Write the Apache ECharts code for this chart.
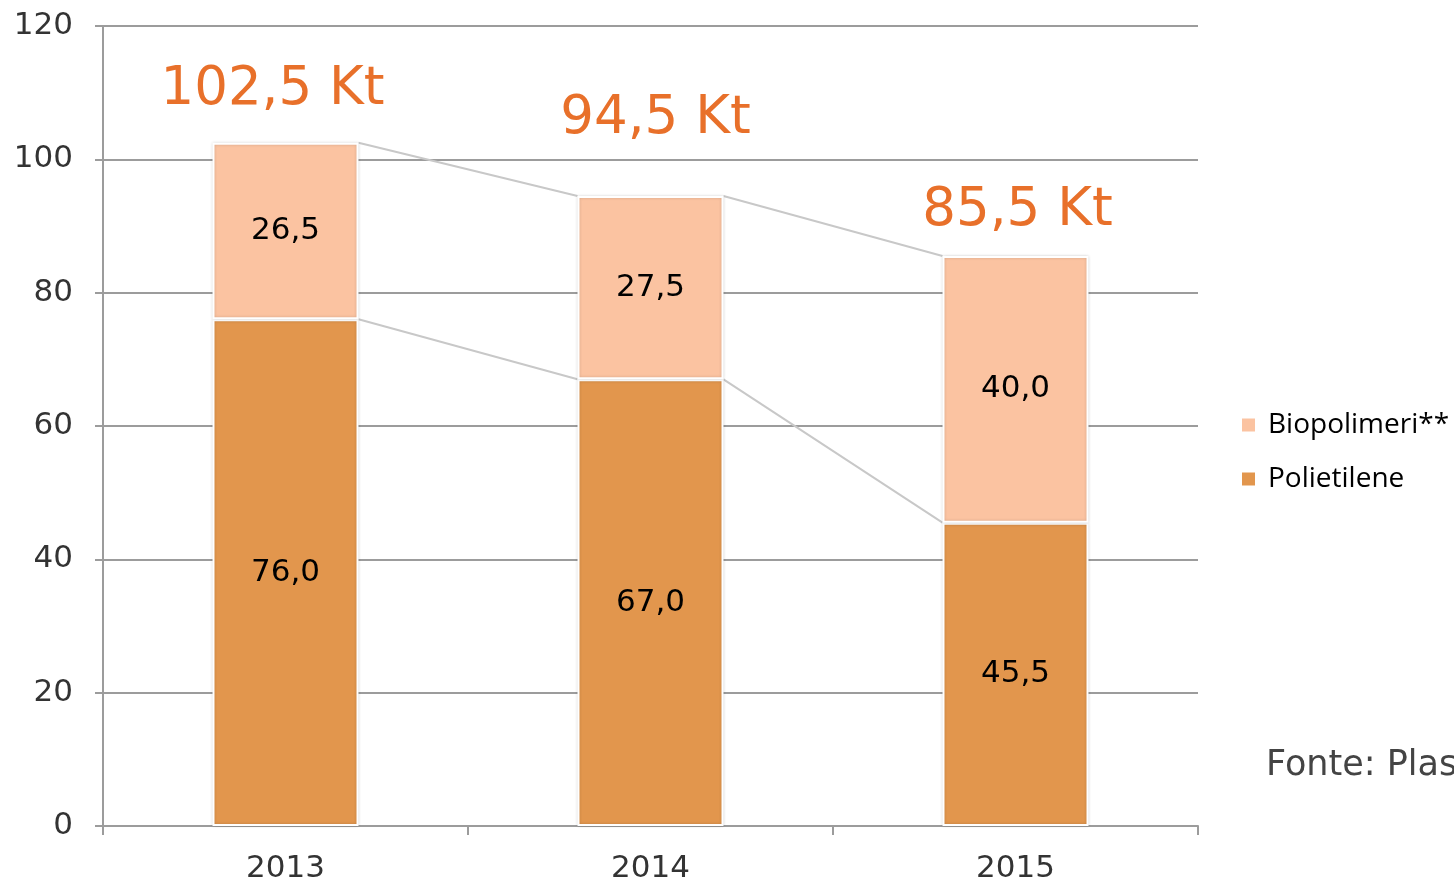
<!DOCTYPE html>
<html>
<head>
<meta charset="utf-8">
<script src="https://cdn.jsdelivr.net/npm/echarts@6/dist/echarts.min.js"></script>
<style>html,body{margin:0;padding:0;background:#fff;}#c{width:1454px;height:882px;}</style>
</head>
<body>
<div id="c"></div>
<script>
var categories = ['2013', '2014', '2015'];
var polietilene = [76.0, 67.0, 45.5];
var biopolimeri = [26.5, 27.5, 40.0];
var totals = [102.5, 94.5, 85.5];
var yTicks = [0, 20, 40, 60, 80, 100, 120];
var sourceText = 'Fonte: Plas';

var fmt = function (v) { return v.toFixed(1).replace('.', ','); };
var totalLabelOffsets = [[-13, -6], [5, -30], [2, 2]];

var chart = echarts.init(document.getElementById('c'));

var seriesLineData = [];
for (var i = 0; i < categories.length - 1; i++) {
  seriesLineData.push([i, polietilene[i], polietilene[i + 1]]);
  seriesLineData.push([i, totals[i], totals[i + 1]]);
}

var barStyle = { borderColor: '#ffffff', borderWidth: 2, shadowBlur: 3, shadowColor: 'rgba(0,0,0,0.18)' };

chart.setOption({
  animation: false,
  grid: { left: 103, right: 256, top: 26, bottom: 56, containLabel: false, outerBoundsMode: 'none' },
  legend: {
    orient: 'vertical', left: 1235, top: 406, itemWidth: 15, itemHeight: 15, itemGap: 26,
    icon: 'rect',
    textStyle: { fontFamily: 'Open Sans', fontSize: 28, color: '#000', padding: [0, 0, 0, 7] },
    data: ['Biopolimeri**', 'Polietilene']
  },
  xAxis: {
    type: 'category', data: categories,
    axisLine: { lineStyle: { color: '#9c9c9c', width: 2 } },
    axisTick: { show: true, length: 9, lineStyle: { color: '#9c9c9c', width: 2 } },
    axisLabel: { fontFamily: 'DejaVu Sans', fontSize: 31, color: '#333', margin: 27 }
  },
  yAxis: {
    type: 'value', min: yTicks[0], max: yTicks[yTicks.length - 1], interval: 20,
    axisLine: { show: true, lineStyle: { color: '#9c9c9c', width: 2 } },
    axisTick: { show: true, length: 8, lineStyle: { color: '#9c9c9c', width: 2 } },
    splitLine: { lineStyle: { color: '#9c9c9c', width: 2 } },
    axisLabel: { fontFamily: 'DejaVu Sans', fontSize: 31, color: '#333', margin: 30 }
  },
  series: [
    {
      name: 'Polietilene', type: 'bar', stack: 'a', barWidth: '40%',
      itemStyle: Object.assign({ color: '#E2964D' }, barStyle),
      label: { show: true, position: 'inside', fontFamily: 'DejaVu Sans', fontSize: 31, color: '#000',
        formatter: function (p) { return fmt(p.value); } },
      data: polietilene, z: 3
    },
    {
      name: 'Biopolimeri**', type: 'bar', stack: 'a', barWidth: '40%',
      itemStyle: Object.assign({ color: '#FBC3A1' }, barStyle),
      label: { show: true, position: 'inside', fontFamily: 'DejaVu Sans', fontSize: 31, color: '#000',
        formatter: function (p) { return fmt(p.value); } },
      data: biopolimeri, z: 3
    },
    {
      name: 'totals', type: 'bar', stack: 'a', barWidth: '40%',
      itemStyle: { color: 'transparent' },
      silent: true, z: 4,
      data: totals.map(function (t, i) {
        return {
          value: 0,
          label: {
            show: true, position: 'top', distance: 20,
            offset: totalLabelOffsets[i],
            fontFamily: 'DejaVu Sans', fontSize: 53, color: '#E8702A',
            formatter: fmt(t) + ' Kt'
          }
        };
      })
    },
    {
      type: 'custom', silent: true, z: 2,
      renderItem: function (params, api) {
        var idx = api.value(0);
        var half = api.size([1, 0])[0] * 0.2;
        var p1 = api.coord([idx, api.value(1)]);
        var p2 = api.coord([idx + 1, api.value(2)]);
        return {
          type: 'line',
          shape: { x1: p1[0] + half, y1: p1[1], x2: p2[0] - half, y2: p2[1] },
          style: { stroke: '#c8c8c8', lineWidth: 2 }
        };
      },
      data: seriesLineData
    }
  ],
  graphic: [{
    type: 'text', left: 1266, top: 748,
    style: { text: sourceText, fontFamily: 'DejaVu Sans', fontSize: 35, fill: '#444' }
  }]
});
</script>
</body>
</html>
